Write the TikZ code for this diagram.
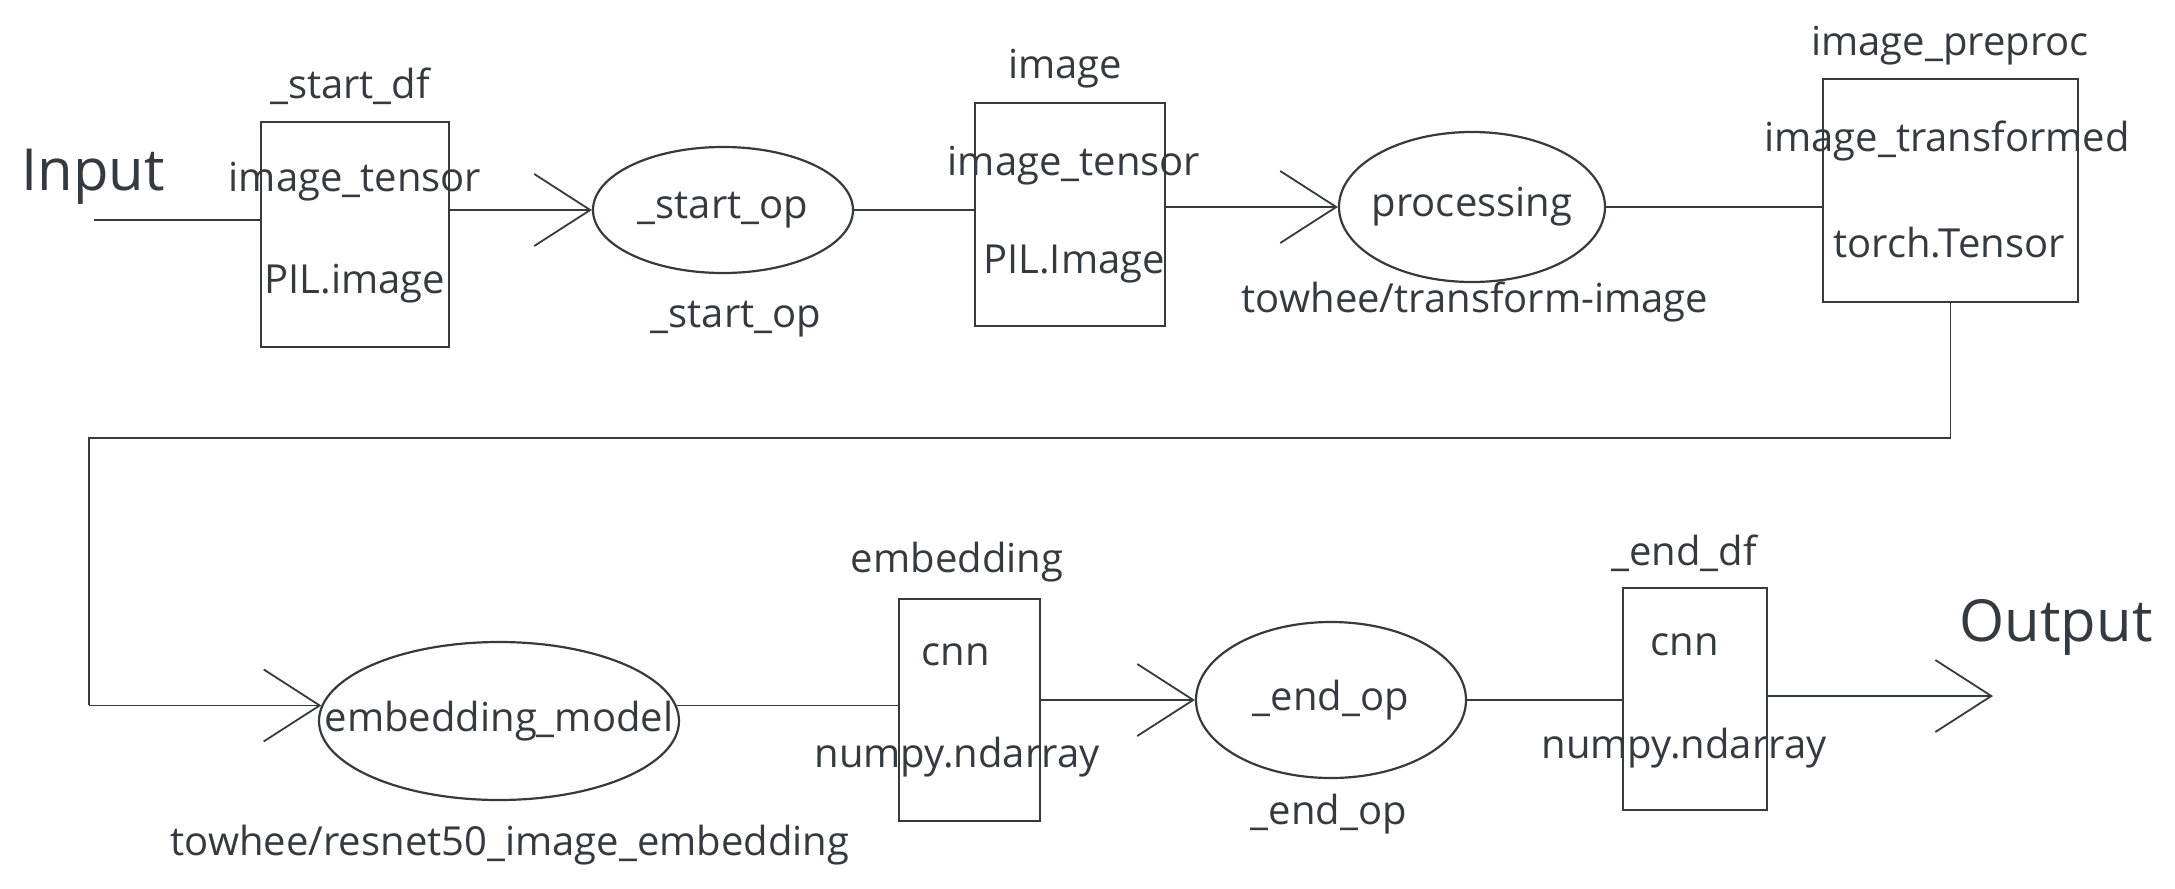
\documentclass[tikz,border=0pt]{standalone}
\usepackage{fontspec}
\setmainfont{Open Sans}
\usetikzlibrary{shapes.geometric,arrows.meta}
\definecolor{ink}{HTML}{343A40}
\tikzset{
  lbl/.style={text=ink,font=\fontsize{20}{24}\selectfont,inner sep=0pt,anchor=center},
  big/.style={text=ink,font=\fontsize{29}{34}\selectfont,inner sep=0pt,anchor=center},
  dfbox/.style={draw=ink,line width=1.1pt,rectangle,inner sep=0pt},
  opell/.style={draw=ink,line width=1.1pt,ellipse,inner sep=0pt},
  conn/.style={draw=ink,line width=0.9pt},
  arr/.style={conn,-{Straight Barb[length=28pt,width=36pt,line width=0.9pt]}}
}
\begin{document}
\begin{tikzpicture}[x=0.5pt,y=-0.5pt]
\useasboundingbox (0,0) rectangle (2175,889);

% boxes (data frames)
\node[dfbox,minimum width=94pt,minimum height=112.5pt] (startdf) at (355,234.5) {};
\node[dfbox,minimum width=95pt,minimum height=111.5pt] (imgbox) at (1070,214.5) {};
\node[dfbox,minimum width=127.5pt,minimum height=111.5pt] (preproc) at (1950.5,190.5) {};
\node[dfbox,minimum width=70.5pt,minimum height=111pt] (embbox) at (969.5,710) {};
\node[dfbox,minimum width=72pt,minimum height=111pt] (enddf) at (1695,699) {};

% operators
\node[opell,minimum width=130pt,minimum height=63pt] (startop) at (723,210) {};
\node[opell,minimum width=133pt,minimum height=75pt] (proc) at (1472,207) {};
\node[opell,minimum width=180pt,minimum height=79pt] (embmodel) at (499,721) {};
\node[opell,minimum width=135pt,minimum height=78pt] (endop) at (1331,700) {};
\node[lbl] (startoptxt) at (startop) {\_start\_op};
\node[lbl] (proctxt) at (proc) {processing};
\node[lbl] (embmodeltxt) at (embmodel) {embedding\_model};
\node[lbl] (endoptxt) at (endop) {\_end\_op};

% labels
\node[big] (inputlbl) at (93,177) {Input};
\node[big] (outputlbl) at (2056,627) {Output};

\node[lbl] (l1) at (350,86) {\_start\_df};
\node[lbl] (l2) at (355,182) {image\_tensor};
\node[lbl] (l3) at (355,284) {PIL.image};
\node[lbl] (l4) at (736,319) {\_start\_op};
\node[lbl] (l5) at (1065,69) {image};
\node[lbl] (l6) at (1074,166) {image\_tensor};
\node[lbl] (l7) at (1074,264) {PIL.Image};
\node[lbl] (l8) at (1475,302) {towhee/transform-image};
\node[lbl] (l9) at (1950,46) {image\_preproc};
\node[lbl] (l10) at (1947,141) {image\_transformed};
\node[lbl] (l11) at (1949,243) {torch.Tensor};
\node[lbl] (l12) at (957,562) {embedding};
\node[lbl] (l13) at (956,655) {cnn};
\node[lbl] (l14) at (957,757) {numpy.ndarray};
\node[lbl] (l15) at (510,845) {towhee/resnet50\_image\_embedding};
\node[lbl] (l16) at (1329,814) {\_end\_op};
\node[lbl] (l17) at (1684,553) {\_end\_df};
\node[lbl] (l18) at (1685,645) {cnn};
\node[lbl] (l19) at (1684,748) {numpy.ndarray};

% connectors
\coordinate (inp) at (94,220);
\coordinate (outp) at (1993,696);
\coordinate (turn) at (89,438);

\draw[conn] (inp) -- (inp -| startdf.west);
\draw[arr] (startdf.east |- startop.west) -- (startop.west);
\draw[conn] (startop.east) -- (startop.east -| imgbox.west);
\draw[arr] (imgbox.east |- proc.west) -- (proc.west);
\draw[conn] (proc.east) -- (proc.east -| preproc.west);
\draw[conn] (preproc.south) |- (turn) -- (turn |- embmodel.175);
\draw[arr] (turn |- embmodel.175) -- (embmodel.175);
\draw[conn] (embmodel.5) -- (embmodel.5 -| embbox.west);
\draw[arr] (embbox.east |- endop.west) -- (endop.west);
\draw[conn] (endop.east) -- (endop.east -| enddf.west);
\draw[arr] (enddf.east |- outp) -- (outp);
\end{tikzpicture}
\end{document}
